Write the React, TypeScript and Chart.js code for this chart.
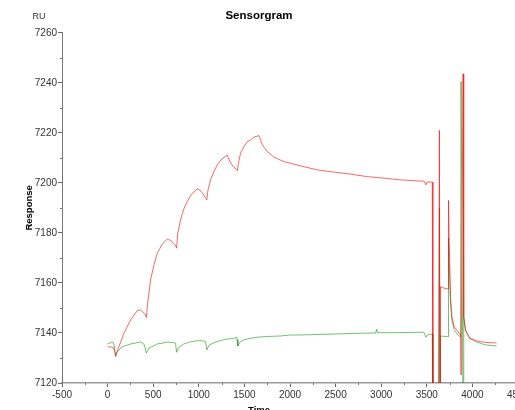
import React, { useEffect, useRef } from "react";
import { Chart, registerables } from "chart.js";

Chart.register(...registerables);

const chartTitle = "Sensorgram";
const xAxisTitle = "Time";
const yAxisTitle = "Response";
const yUnitLabel = "RU";

const xMin = -500;
const xMax = 4500;
const xStep = 500;
const yMin = 7120;
const yMax = 7260;
const yStep = 20;

// Sample channel (red)
const sampleTime = [
  0, 60, 75, 88, 100, 124, 179, 252, 325, 360, 390, 415, 425, 440, 471, 510, 545, 600, 654, 690,
  720, 745, 756, 770, 800, 835, 873, 920, 983, 1010, 1040, 1075, 1088, 1100, 1129, 1165, 1202, 1250,
  1312, 1330, 1349, 1380, 1410, 1422, 1435, 1458, 1495, 1532, 1568, 1605, 1659, 1670, 1696, 1751,
  1824, 1933, 2116, 2299, 2481, 2664, 2847, 3030, 3213, 3396, 3470, 3490, 3505, 3560, 3567, 3630,
  3638, 3645, 3650, 3700, 3733, 3738, 3745, 3760, 3775, 3800, 3850, 3870, 3876, 3898, 3905, 3925,
  3970, 4050, 4150, 4265,
];
const sampleResponse = [
  7134.5, 7134.3, 7133, 7130.5, 7132, 7134.5, 7139.9, 7145.2, 7148.9, 7149.2, 7148.3, 7147.2, 7146.2,
  7152, 7161.2, 7167.5, 7171.9, 7175.5, 7177.5, 7177, 7176, 7175, 7173.9, 7180, 7185.2, 7189.5,
  7192.5, 7195.5, 7197.6, 7197.2, 7195.9, 7194, 7193.2, 7197, 7201.2, 7204.5, 7207.2, 7209.5, 7211.1,
  7209.5, 7207.9, 7206.5, 7205.5, 7204.9, 7208, 7211.9, 7214.5, 7216.5, 7217.2, 7218.3, 7218.9, 7218,
  7215.2, 7212.5, 7210.3, 7208.5, 7206.8, 7205.2, 7204.3, 7203.5, 7202.5, 7201.9, 7201.2, 7200.8,
  7200.7, 7199.2, 7200.4, 7200.3, 7100, 7100, 7221, 7100, 7158.5, 7157.8, 7157.6, 7193, 7177,
  7154.5, 7146.5, 7142.5, 7140, 7139.5, 7123.2, 7243.6, 7146.5, 7141, 7137.9, 7136.8, 7136.2, 7136,
];

// Reference channel (green)
const referenceTime = [
  0, 40, 55, 70, 80, 88, 106, 161, 252, 362, 398, 412, 424, 453, 545, 654, 720, 745, 756, 775, 836,
  900, 983, 1040, 1075, 1089, 1110, 1166, 1240, 1312, 1395, 1410, 1420, 1428, 1450, 1495, 1570,
  1641, 1750, 1897, 2007, 2116, 2400, 2774, 2940, 2950, 2960, 3100, 3300, 3468, 3490, 3510, 3560,
  3567, 3630, 3638, 3645, 3650, 3733, 3738, 3745, 3760, 3775, 3800, 3850, 3870, 3876, 3898, 3905,
  3925, 3970, 4050, 4150, 4265,
];
const referenceResponse = [
  7135.6, 7136.2, 7136.4, 7135.5, 7133, 7131.2, 7132.5, 7134.5, 7135.6, 7136.4, 7135.6, 7134, 7132,
  7133.9, 7135.6, 7136.3, 7136.2, 7135.9, 7132.3, 7134, 7135.6, 7136.4, 7136.9, 7136.9, 7136.5,
  7133.2, 7135, 7136.1, 7137, 7137.6, 7137.9, 7138.4, 7137.5, 7134.8, 7136.3, 7137.3, 7137.9, 7138.3,
  7138.6, 7138.8, 7139.2, 7139.2, 7139.5, 7139.9, 7140, 7141.5, 7140.1, 7140.1, 7140.2, 7140.3,
  7138.3, 7139.2, 7139.6, 7100, 7100, 7190, 7100, 7138.8, 7138.5, 7178, 7169, 7152, 7145.2, 7141.2,
  7138.8, 7138.6, 7240.5, 7100, 7146.5, 7141.2, 7137.9, 7136.3, 7135.2, 7134.8,
];

const toPoints = (xs: number[], ys: number[]) => xs.map((x, i) => ({ x, y: ys[i] }));

const decorPlugin = {
  id: "decor",
  afterDraw(chart: any) {
    const { ctx } = chart;
    const xs = chart.scales.x;
    const ys = chart.scales.y;
    ctx.save();
    ctx.strokeStyle = "#777";
    ctx.lineWidth = 1;
    ctx.beginPath();
    for (let v = xMin + xStep / 2; v < xMax; v += xStep) {
      const px = Math.round(xs.getPixelForValue(v)) + 0.5;
      ctx.moveTo(px, xs.top);
      ctx.lineTo(px, xs.top + 2);
    }
    for (let v = yMin + yStep / 2; v < yMax; v += yStep) {
      const py = Math.round(ys.getPixelForValue(v)) + 0.5;
      ctx.moveTo(ys.right - 2, py);
      ctx.lineTo(ys.right, py);
    }
    ctx.stroke();
    ctx.fillStyle = "#333";
    ctx.font = "9px 'Liberation Sans', Arial, sans-serif";
    ctx.textAlign = "center";
    ctx.textBaseline = "middle";
    ctx.fillText(yUnitLabel, 39, 17);
    ctx.restore();
  },
};

export default function App() {
  const canvasRef = useRef<HTMLCanvasElement | null>(null);

  useEffect(() => {
    if (!canvasRef.current) return;
    Chart.defaults.font.family = "'Liberation Sans', Arial, sans-serif";
    const chart = new Chart(canvasRef.current, {
      type: "line",
      data: {
        datasets: [
          {
            label: "Sample",
            data: toPoints(sampleTime, sampleResponse),
            borderColor: "rgba(255,0,0,0.6)",
            borderWidth: 1,
            pointRadius: 0,
            tension: 0,
            fill: false,
          },
          {
            label: "Reference",
            data: toPoints(referenceTime, referenceResponse),
            borderColor: "rgba(0,140,0,0.55)",
            borderWidth: 1,
            pointRadius: 0,
            tension: 0,
            fill: false,
          },
        ],
      },
      options: {
        responsive: false,
        animation: false,
        devicePixelRatio: 1,
        layout: { padding: { left: 0, right: 32, top: 0, bottom: 0 } },
        plugins: {
          legend: { display: false },
          tooltip: { enabled: false },
          title: {
            display: true,
            text: chartTitle,
            color: "#000",
            font: { size: 11.5, weight: "bold" },
            padding: { top: 9, bottom: 10 },
          },
          subtitle: {
            display: true,
            text: xAxisTitle,
            position: "bottom",
            color: "#000",
            font: { size: 9.5, weight: "bold" },
            padding: { top: 0, bottom: 4 },
          },
        },
        scales: {
          x: {
            type: "linear",
            min: xMin,
            max: xMax,
            afterFit: (s: any) => {
              s.height = 21.6;
            },
            border: { display: true, color: "#999", width: 1.5 },
            grid: { drawOnChartArea: false, drawTicks: true, tickLength: 4, color: "#666" },
            ticks: {
              stepSize: xStep,
              autoSkip: false,
              maxRotation: 0,
              padding: 2,
              color: "#333",
              font: { size: 10 },
              callback: (v: any) => String(v),
            },
          },
          y: {
            type: "linear",
            min: yMin,
            max: yMax,
            afterFit: (s: any) => {
              s.width = 62;
            },
            border: { display: true, color: "#777", width: 1 },
            grid: { drawOnChartArea: false, drawTicks: true, tickLength: 4, color: "#666" },
            ticks: {
              stepSize: yStep,
              padding: 1,
              color: "#333",
              font: { size: 10 },
              callback: (v: any) => String(v),
            },
            title: {
              display: true,
              text: yAxisTitle,
              color: "#000",
              font: { size: 9.5, weight: "bold" },
              padding: { top: 24, bottom: 0 },
            },
          },
        },
      },
      plugins: [decorPlugin],
    });
    return () => chart.destroy();
  }, []);

  return (
    <div
      style={{
        position: "fixed",
        left: 0,
        top: 0,
        width: 515,
        height: 410,
        overflow: "hidden",
        background: "#fff",
      }}
    >
      <canvas ref={canvasRef} width={550} height={420} style={{ display: "block" }} />
    </div>
  );
}
